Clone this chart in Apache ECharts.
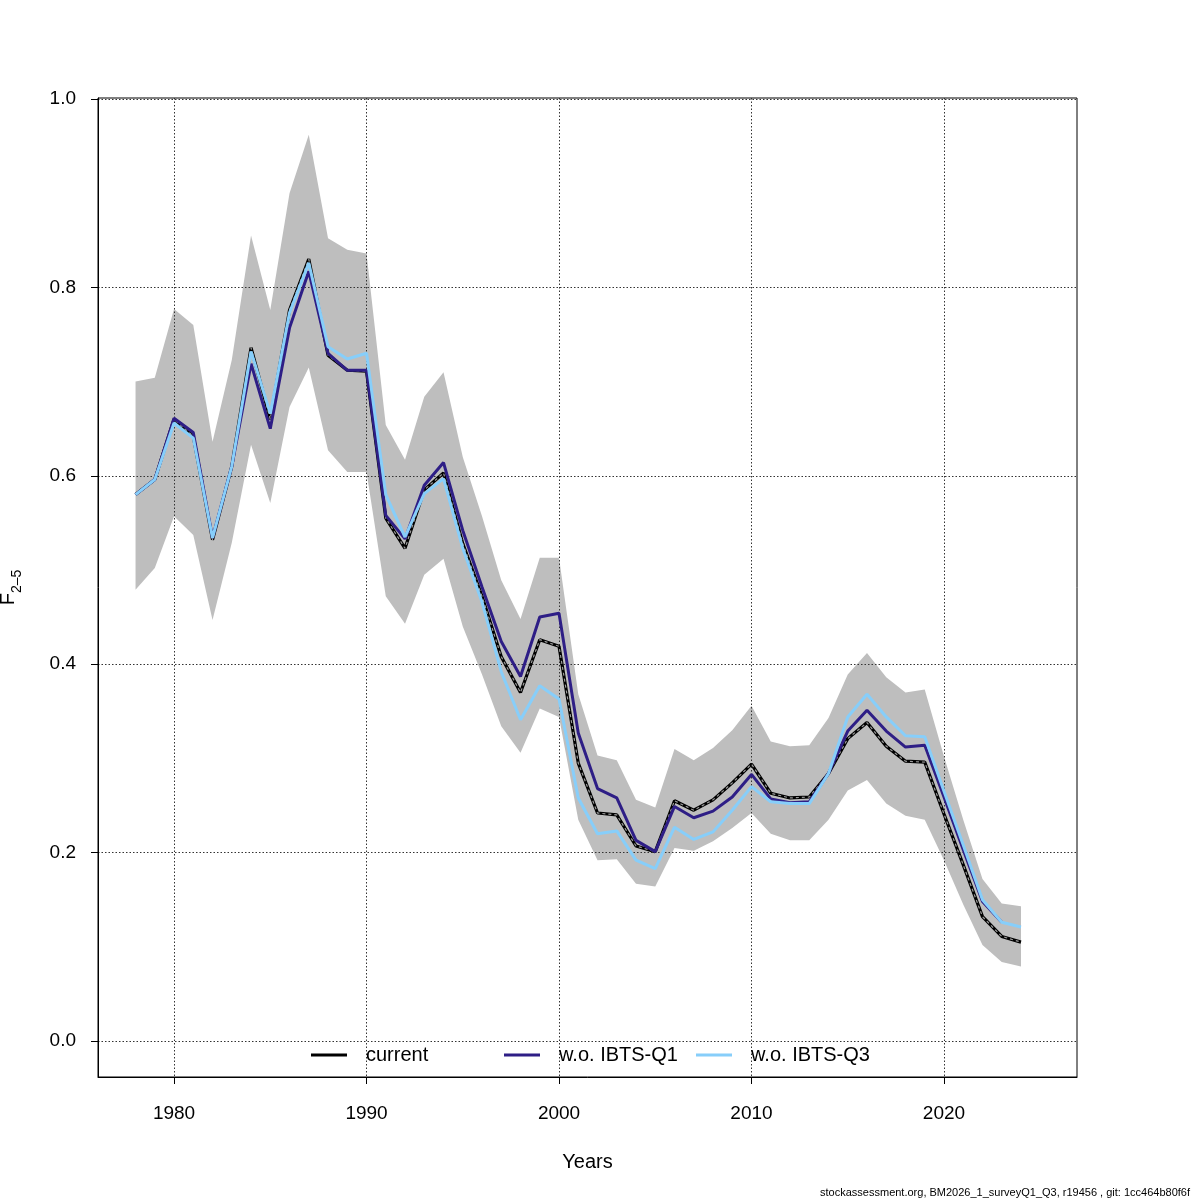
<!DOCTYPE html>
<html>
<head>
<meta charset="utf-8">
<script src="https://cdn.jsdelivr.net/npm/echarts@6/dist/echarts.min.js"></script>
<style>html,body{margin:0;padding:0;background:#fff}#c{width:1200px;height:1200px}</style>
</head>
<body>
<div id="c"></div>
<script>
const years = [1978,1979,1980,1981,1982,1983,1984,1985,1986,1987,1988,1989,1990,1991,1992,1993,1994,1995,1996,1997,1998,1999,2000,2001,2002,2003,2004,2005,2006,2007,2008,2009,2010,2011,2012,2013,2014,2015,2016,2017,2018,2019,2020,2021,2022,2023,2024];
const current = [0.580,0.596,0.660,0.642,0.532,0.610,0.736,0.660,0.776,0.830,0.728,0.712,0.711,0.555,0.523,0.585,0.603,0.528,0.472,0.408,0.370,0.426,0.419,0.295,0.242,0.240,0.207,0.201,0.255,0.245,0.256,0.274,0.294,0.263,0.258,0.259,0.284,0.321,0.338,0.313,0.297,0.296,0.241,0.187,0.132,0.111,0.105];
const woQ1 = [0.580,0.596,0.661,0.646,0.534,0.610,0.719,0.650,0.757,0.817,0.730,0.712,0.712,0.558,0.533,0.590,0.614,0.542,0.482,0.424,0.387,0.450,0.454,0.327,0.268,0.258,0.213,0.201,0.249,0.237,0.244,0.259,0.283,0.257,0.253,0.254,0.284,0.329,0.351,0.329,0.312,0.314,0.259,0.203,0.148,0.126];
const woQ3 = [0.580,0.596,0.656,0.640,0.534,0.610,0.732,0.666,0.773,0.826,0.737,0.724,0.730,0.580,0.535,0.581,0.597,0.523,0.466,0.392,0.341,0.377,0.363,0.258,0.220,0.223,0.192,0.183,0.227,0.214,0.222,0.245,0.270,0.254,0.252,0.252,0.284,0.344,0.368,0.344,0.324,0.323,0.265,0.208,0.150,0.126,0.121];
const upper = [0.700,0.704,0.777,0.760,0.636,0.723,0.855,0.776,0.900,0.962,0.852,0.840,0.836,0.654,0.617,0.684,0.710,0.620,0.557,0.489,0.448,0.513,0.513,0.368,0.303,0.298,0.256,0.248,0.310,0.298,0.311,0.330,0.356,0.318,0.313,0.314,0.343,0.389,0.412,0.386,0.370,0.373,0.302,0.235,0.172,0.146,0.143];
const lower = [0.479,0.502,0.557,0.537,0.447,0.529,0.633,0.571,0.673,0.715,0.627,0.604,0.604,0.472,0.443,0.495,0.512,0.440,0.389,0.334,0.306,0.353,0.344,0.235,0.192,0.193,0.167,0.164,0.205,0.202,0.212,0.226,0.242,0.220,0.213,0.213,0.235,0.266,0.277,0.252,0.239,0.235,0.192,0.145,0.102,0.084,0.079];
const xTicks = [1980,1990,2000,2010,2020];
const yTicks = [0,0.2,0.4,0.6,0.8,1.0];
const legendNames = ['current','w.o. IBTS-Q1','w.o. IBTS-Q3'];
const footer = 'stockassessment.org, BM2026_1_surveyQ1_Q3, r19456 , git: 1cc464b80f6f';

const FONT = 'Liberation Sans';
const pairs = (arr) => arr.map((v,i)=>[years[i], v]);

const chart = echarts.init(document.getElementById('c'), null, {renderer:'canvas'});
const legendCommon = {
  top: 1040, itemWidth: 36, itemHeight: 3, icon: 'rect', orient:'horizontal',
  textStyle: {fontFamily: FONT, fontSize: 20, color:'#000', padding:[0,0,0,14]},
  selectedMode: false
};
chart.setOption({
  animation: false,
  backgroundColor: '#fff',
  grid: {left: 98, top: 98, width: 979, height: 979, show: true, borderColor:'#000', borderWidth: 1,
         containLabel:false, outerBoundsMode: 'none'},
  xAxis: {
    type: 'value', min: 1976.05, max: 2026.91,
    name: 'Years', nameLocation: 'middle', nameGap: 75,
    nameTextStyle: {fontFamily: FONT, fontSize: 20, color:'#000'},
    axisLine: {show: true, onZero:false, lineStyle:{color:'#000', width:1}},
    axisTick: {show: true, length: 7, customValues: xTicks, lineStyle:{color:'#000'}},
    axisLabel: {customValues: xTicks, fontFamily: FONT, fontSize: 19, color:'#000', margin: 27,
      formatter: (v)=> String(v)},
    splitLine: {show: true, lineStyle: {color:'#333', type:[1.5,2], width:1}}
  },
  yAxis: {
    type: 'value', min: -0.0382, max: 1.001,
    name: '{a|F}{b|2–5}', nameLocation: 'middle', nameGap: 74, nameRotate: 90,
    nameTextStyle: {fontFamily: FONT, color:'#000', rich: {
      a: {fontFamily: FONT, fontSize: 20, color:'#000', lineHeight: 26, verticalAlign:'top'},
      b: {fontFamily: FONT, fontSize: 14, color:'#000', lineHeight: 26, padding:[12,0,0,0], verticalAlign:'top'}
    }},
    axisLine: {show: true, onZero:false, lineStyle:{color:'#000', width:1}},
    axisTick: {show: true, length: 7, customValues: yTicks, lineStyle:{color:'#000'}},
    axisLabel: {customValues: yTicks, fontFamily: FONT, fontSize: 19, color:'#000', margin: 22,
      formatter: (v)=> v.toFixed(1)},
    splitLine: {show: true, lineStyle: {color:'#333', type:[1.5,2], width:1}}
  },
  legend: [
    Object.assign({}, legendCommon, {left: 306, data: [legendNames[0]]}),
    Object.assign({}, legendCommon, {left: 499, data: [legendNames[1]]}),
    Object.assign({}, legendCommon, {left: 691, data: [legendNames[2]]})
  ],
  graphic: [{
    type: 'text', right: 10, bottom: 2, silent: true,
    style: {text: footer, font: '11px "Liberation Sans"', fill: '#000'}
  }],
  series: [
    {name: 'band', type: 'custom', z: -1, silent: true,
     data: years.map((y,i)=>[y, lower[i], upper[i]]),
     renderItem: function(params, api) {
       if (params.dataIndex !== 0) return null;
       const pts = [];
       for (let i = 0; i < years.length; i++) pts.push(api.coord([years[i], upper[i]]));
       for (let i = years.length - 1; i >= 0; i--) pts.push(api.coord([years[i], lower[i]]));
       return {type: 'polygon', shape: {points: pts}, style: {fill: '#BEBEBE', stroke: null}};
     }},
    {name: legendNames[0], type: 'line', data: pairs(current), symbol: 'none',
     lineStyle: {color: '#000', width: 3.2}, itemStyle:{color:'#000'}, z: 3},
    {name: 'currentDash', type: 'line', data: pairs(current), symbol: 'none',
     lineStyle: {color: '#9a9a9a', width: 1.2, type: [3,3]}, z: 3},
    {name: legendNames[1], type: 'line', data: pairs(woQ1), symbol: 'none',
     lineStyle: {color: '#2E1E86', width: 3}, itemStyle:{color:'#2E1E86'}, z: 4},
    {name: legendNames[2], type: 'line', data: pairs(woQ3), symbol: 'none',
     lineStyle: {color: '#87CEFA', width: 3}, itemStyle:{color:'#87CEFA'}, z: 5}
  ]
});
</script>
</body>
</html>
